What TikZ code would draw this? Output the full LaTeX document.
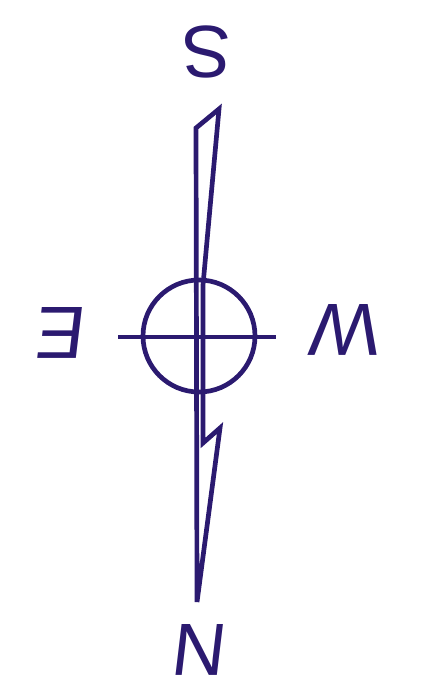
\documentclass[tikz,border=0pt]{standalone}
\usepackage{fontspec}
\setmainfont{Liberation Sans}
\definecolor{compassblue}{HTML}{2B1A70}
\begin{document}
\begin{tikzpicture}[x=1pt,y=-1pt, color=compassblue, line width=4.7pt,
  letter/.style={font=\fontsize{74}{80}\selectfont, rotate=180, inner sep=0pt},
  leaning/.style={xslant=0.12}]
\useasboundingbox (0,0) rectangle (433,693);

% ===== Needle =====
\draw (219,109) -- (196,128) -- (197,602) -- (220,428) -- (203,443) -- (203,285) -- cycle;

% ===== Dial and cross bar =====
\node[circle, draw, minimum size=112pt, inner sep=0pt] (dial) at (199,336) {};
\coordinate (barW) at (118,337);
\coordinate (barE) at (276,337);
\draw (barW) -- (barE);

% ===== Letters =====
\node[letter] (south) at (207,52) {S};
\node[letter, leaning] (east) at (61,333) {E};
\node[letter, leaning] (west) at (346,330) {W};
\node[letter, leaning] (north) at (200,650) {N};

\end{tikzpicture}
\end{document}
